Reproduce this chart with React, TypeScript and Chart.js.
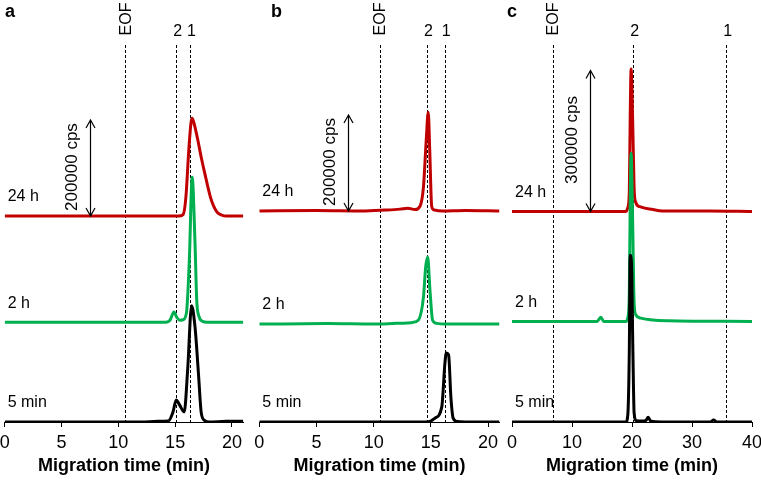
import React, { useEffect, useRef } from "react";
import { Chart, registerables } from "chart.js";

Chart.register(...registerables);

const FONT = "'Liberation Sans', Arial, Helvetica, sans-serif";
const RED = "#C00000";
const GREEN = "#00B050";
const BLACK = "#000000";

const traceLabels = ["5 min", "2 h", "24 h"];
const traceColors = [BLACK, GREEN, RED];
const markerLabels = ["EOF", "2", "1"];
const xTitle = "Migration time (min)";

// ---------- Panel a ----------
const a5min: [number, number][] = [
  [0, 0], [12.0, 0], [13.5, 1500], [14.4, 2000], [14.8, 20000], [15.1, 46000], [15.4, 35000],
  [15.8, 21000], [16.1, 108000], [16.45, 242000], [16.75, 198000], [17.05, 102000], [17.3, 19000],
  [17.6, 3000], [18.0, 0], [19.5, 1500], [21, 1500],
];
const a2h: [number, number][] = [
  [0, 0], [14.2, 0], [14.55, 4000], [14.9, 21000], [15.15, 10000], [15.4, 4000], [15.7, 5000],
  [16.0, 20000], [16.25, 130000], [16.5, 302000], [16.75, 165000], [16.9, 46000], [17.1, 12000],
  [17.4, 2000], [17.8, 0], [21, 0],
];
const a24h: [number, number][] = [
  [0, 0], [15.3, 0], [15.7, 3000], [15.95, 40000], [16.2, 137000], [16.4, 195000], [16.5, 204000],
  [16.7, 190000], [17.0, 158000], [17.3, 122000], [17.6, 90000], [18.1, 40000], [18.4, 20000],
  [18.7, 8000], [19.1, 2000], [19.5, 0], [21, 0],
];
const aOffsets = [0, 208000, 429000];
const aMarkers = [10.6, 15.1, 16.3];
const aTicks = [0, 5, 10, 15, 20];
const aScaleBar = { time: 7.5, cps: 200000 };
const aScaleText = "200000 cps";

// ---------- Panel b ----------
const b5min: [number, number][] = [
  [0, 0], [14.5, 0], [15.0, 2000], [15.35, 8000], [15.95, 31000], [16.23, 123000], [16.35, 144000],
  [16.55, 140000], [16.75, 52000], [16.95, 8000], [17.3, 1000], [18, 0], [21, 0],
];
const b2h: [number, number][] = [
  [0, 0], [6, 1000], [10, 0], [12, 1500], [13.3, 3000], [13.9, 8000], [14.35, 56000], [14.55, 120000],
  [14.72, 140000], [14.92, 71000], [15.15, 8000], [15.5, 1500], [16.2, 0], [21, 0],
];
const b24h: [number, number][] = [
  [0, 0], [5, 1000], [9, 0], [11, 2000], [12.3, 4000], [13.0, 6000], [13.6, 3000], [14.05, 10000],
  [14.35, 50000], [14.6, 150000], [14.77, 206000], [14.9, 127000], [15.07, 10000], [15.3, 2000],
  [16, 0], [18, 1000], [21, 0],
];
const bOffsets = [0, 204000, 439500];
const bMarkers = [10.55, 14.66, 16.2];
const bTicks = [0, 5, 10, 15, 20];
const bScaleBar = { time: 7.75, cps: 200000 };
const bScaleText = "200000 cps";

// ---------- Panel c ----------
const c5min: [number, number][] = [
  [0, 0], [17, 0], [19.0, 0], [19.3, 15000], [19.55, 150000], [19.7, 355000], [19.9, 340000],
  [20.15, 150000], [20.35, 20000], [20.7, 3000], [21.5, 2000], [22.3, 3000], [22.7, 10000],
  [23.1, 2000], [25, 0], [33, 0], [33.6, 4000], [34.2, 0], [40, 0],
];
const c2h: [number, number][] = [
  [0, 0], [14.2, 0], [14.8, 9000], [15.3, 0], [19.0, 0], [19.3, 8000], [19.55, 60000], [19.7, 250000],
  [19.85, 358000], [20.1, 220000], [20.35, 40000], [20.6, 15000], [21.5, 7000], [23.5, 3000],
  [26, 1500], [40, 0],
];
const c24h: [number, number][] = [
  [0, 0], [10, 0], [19.0, 0], [19.3, 8000], [19.55, 40000], [19.7, 200000], [19.85, 303000],
  [20.1, 200000], [20.35, 50000], [20.6, 20000], [21.3, 10000], [23.5, 4000], [25, 1000],
  [33, 1000], [40, 0],
];
const cOffsets = [0, 214000, 448000];
const cMarkers = [6.8, 20.2, 35.7];
const cTicks = [0, 10, 20, 30, 40];
const cScaleBar = { time: 13.0, cps: 300000 };
const cScaleText = "300000 cps";

type Pair = [number, number];
type PanelCfg = {
  letter: string;
  traces: Pair[][];
  offsets: number[];
  markers: number[];
  ticks: number[];
  bar: { time: number; cps: number };
  barText: string;
  xMax: number;
  yMax: number;
  left: number;
  width: number;
  padL: number;
  padR: number;
  letterX: number;
};

const panels: PanelCfg[] = [
  {
    letter: "a", traces: [a5min, a2h, a24h], offsets: aOffsets, markers: aMarkers, ticks: aTicks,
    bar: aScaleBar, barText: aScaleText, xMax: 21, yMax: 837500,
    left: 0, width: 252, padL: 4.7, padR: 8.7, letterX: 5,
  },
  {
    letter: "b", traces: [b5min, b2h, b24h], offsets: bOffsets, markers: bMarkers, ticks: bTicks,
    bar: bScaleBar, barText: bScaleText, xMax: 21, yMax: 837500,
    left: 252, width: 253, padL: 7.3, padR: 5.5, letterX: 19,
  },
  {
    letter: "c", traces: [c5min, c2h, c24h], offsets: cOffsets, markers: cMarkers, ticks: cTicks,
    bar: cScaleBar, barText: cScaleText, xMax: 40, yMax: 855300,
    left: 505, width: 256, padL: 7, padR: 9, letterX: 2,
  },
];

function PanelChart({ cfg }: { cfg: PanelCfg }) {
  const ref = useRef<HTMLCanvasElement>(null);
  useEffect(() => {
    const canvas = ref.current;
    if (!canvas) return;

    const overlay = {
      id: "overlay" + cfg.letter,
      beforeDatasetsDraw(chart: any) {
        const { ctx, chartArea, scales } = chart;
        const x = scales.x;
        ctx.save();
        ctx.strokeStyle = "#000";
        ctx.lineWidth = 1;
        ctx.setLineDash([3, 2]);
        cfg.markers.forEach((t) => {
          const px = Math.round(x.getPixelForValue(t)) + 0.5;
          ctx.beginPath();
          ctx.moveTo(px, 45);
          ctx.lineTo(px, chartArea.bottom);
          ctx.stroke();
        });
        ctx.restore();
      },
      afterDraw(chart: any) {
        const { ctx, chartArea, scales } = chart;
        const x = scales.x;
        const y = scales.y;
        ctx.save();
        ctx.fillStyle = "#000";
        // marker labels
        cfg.markers.forEach((t, i) => {
          const px = x.getPixelForValue(t);
          ctx.font = `16px ${FONT}`;
          ctx.textAlign = "center";
          ctx.textBaseline = "middle";
          if (i === 0) {
            ctx.save();
            ctx.translate(px + 1, 19);
            ctx.rotate(-Math.PI / 2);
            ctx.fillText(markerLabels[i], 0, 0);
            ctx.restore();
          } else {
            ctx.fillText(markerLabels[i], px + 1.5, 32);
          }
        });
        // trace labels
        ctx.font = `16px ${FONT}`;
        ctx.textAlign = "left";
        ctx.textBaseline = "middle";
        cfg.offsets.forEach((off, i) => {
          ctx.fillText(traceLabels[i], chartArea.left + 3, y.getPixelForValue(off) - 19);
        });
        // scale arrow
        const ax = Math.round(x.getPixelForValue(cfg.bar.time)) + 0.5;
        const base = cfg.offsets[2];
        const y0 = y.getPixelForValue(base);
        const y1 = y.getPixelForValue(base + cfg.bar.cps);
        ctx.strokeStyle = "#000";
        ctx.lineWidth = 1.2;
        ctx.beginPath();
        ctx.moveTo(ax, y0);
        ctx.lineTo(ax, y1);
        ctx.moveTo(ax - 4.5, y1 + 8);
        ctx.lineTo(ax, y1);
        ctx.lineTo(ax + 4.5, y1 + 8);
        ctx.moveTo(ax - 4.5, y0 - 8);
        ctx.lineTo(ax, y0);
        ctx.lineTo(ax + 4.5, y0 - 8);
        ctx.stroke();
        ctx.save();
        ctx.translate(ax - 18, (y0 + y1) / 2 - 1);
        ctx.rotate(-Math.PI / 2);
        ctx.font = `17px ${FONT}`;
        ctx.textAlign = "center";
        ctx.textBaseline = "middle";
        ctx.fillText(cfg.barText, 0, 0);
        ctx.restore();
        // panel letter
        ctx.font = `bold 18px ${FONT}`;
        ctx.textAlign = "left";
        ctx.textBaseline = "alphabetic";
        ctx.fillText(cfg.letter, cfg.letterX, 17);
        ctx.restore();
      },
    };

    const datasets = cfg.traces.map((tr, i) => ({
      label: traceLabels[i],
      data: tr.map(([t, v]) => ({ x: t, y: v + cfg.offsets[i] })),
      borderColor: traceColors[i],
      backgroundColor: traceColors[i],
      borderWidth: 3,
      pointRadius: 0,
      fill: false,
      cubicInterpolationMode: "monotone" as const,
    }));

    const chart = new Chart(canvas, {
      type: "line",
      data: { datasets },
      options: {
        animation: false,
        responsive: false,
        maintainAspectRatio: false,
        devicePixelRatio: 1,
        layout: { padding: { left: cfg.padL, right: cfg.padR, top: 20, bottom: 0 } },
        plugins: { legend: { display: false }, tooltip: { enabled: false } },
        scales: {
          x: {
            type: "linear",
            min: 0,
            max: cfg.xMax,
            afterBuildTicks: (s: any) => {
              s.ticks = cfg.ticks.map((v) => ({ value: v }));
            },
            afterFit: (s: any) => {
              s.height = 61;
              s.paddingLeft = 0;
              s.paddingRight = 0;
            },
            ticks: {
              font: { size: 18, family: FONT },
              color: "#000",
              padding: 5,
              maxRotation: 0,
              autoSkip: false,
            },
            grid: {
              display: true,
              drawOnChartArea: false,
              drawTicks: true,
              tickLength: 5,
              color: "#000",
              lineWidth: 1,
            },
            border: { display: true, color: "#000", width: 1 },
            title: {
              display: true,
              text: xTitle,
              font: { size: 18, weight: "bold", family: FONT },
              color: "#000",
              padding: { top: 0, bottom: 6 },
            },
          },
          y: {
            type: "linear",
            display: false,
            min: 0,
            max: cfg.yMax,
          },
        },
      },
      plugins: [overlay],
    });
    return () => chart.destroy();
  }, [cfg]);

  return (
    <canvas
      ref={ref}
      width={cfg.width}
      height={483}
      style={{ position: "absolute", left: cfg.left, top: 0, width: cfg.width, height: 483 }}
    />
  );
}

export default function App() {
  return (
    <div
      style={{
        position: "fixed",
        left: 0,
        top: 0,
        width: 761,
        height: 483,
        background: "#fff",
        overflow: "hidden",
        fontFamily: FONT,
      }}
    >
      {panels.map((p) => (
        <PanelChart key={p.letter} cfg={p} />
      ))}
    </div>
  );
}
